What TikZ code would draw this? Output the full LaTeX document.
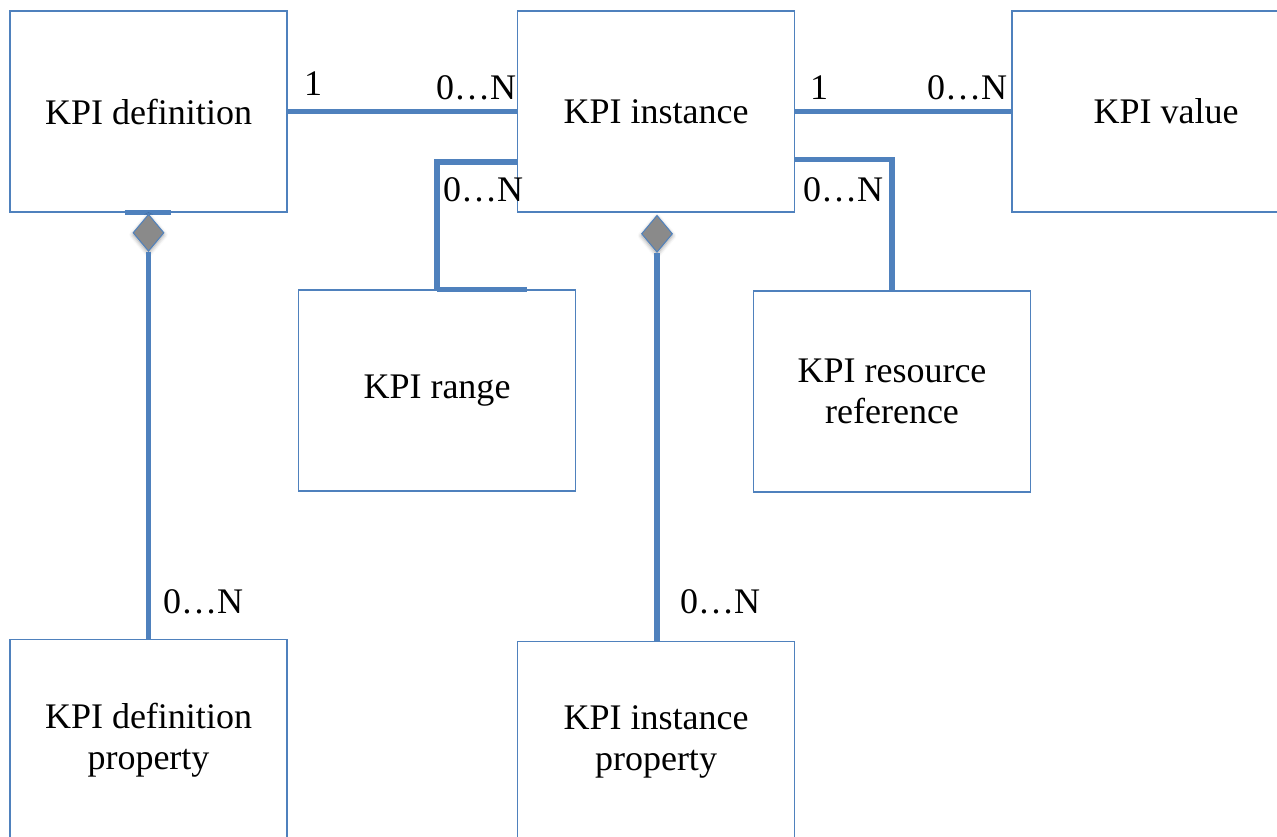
\documentclass[tikz,border=0pt]{standalone}
\usepackage{fontspec}
\setmainfont{Liberation Serif}
\usetikzlibrary{shapes.geometric,shadows.blur}

\definecolor{kpiblue}{RGB}{79,129,189}
\definecolor{kpigray}{RGB}{138,138,138}

\tikzset{
  entity/.style={draw=kpiblue, line width=0.75pt, rectangle, minimum width=138.5pt,
    minimum height=100.5pt, align=center, font=\fontsize{18}{20.5}\selectfont},
  conn/.style={draw=kpiblue, line width=2.6pt},
  agg/.style={diamond, draw=kpiblue, line width=0.5pt, fill=kpigray, inner sep=0pt,
    minimum width=15.5pt, minimum height=18.5pt, aspect=0.84,
    blur shadow={shadow xshift=0pt, shadow yshift=-1pt, shadow blur radius=2pt}},
  mult/.style={font=\fontsize{18}{20}\selectfont, inner sep=0pt}
}

\begin{document}
\begin{tikzpicture}[x=0.5pt, y=-0.5pt]
    \useasboundingbox (0,0) rectangle (1277,836);

    % entities
    \node[entity] (def) at (148.5, 111.5) {KPI definition};
    \node[entity] (inst) at (656, 111.5) {KPI instance};
    \node[entity, minimum width=154pt] (val) at (1166, 111.5) {KPI value};
    \node[entity] (range) at (437, 390.5) {KPI range};
    \node[entity] (res) at (892, 391.5) {KPI resource\\reference};
    \node[entity] (defprop) at (148.5, 740) {KPI definition\\property};
    \node[entity] (instprop) at (656, 742) {KPI instance\\property};

    % associations
    \draw[conn] (def.east) -- (inst.west);
    \draw[conn] (inst.east) -- (val.west);
    \draw[conn] ([yshift=-25.25pt]inst.west) -| (range.north);
    \draw[conn] (range.north) -- ++(90,0);
    \draw[conn] ([yshift=-24pt]inst.east) -| (res.north);

    % aggregations
    \draw[conn] ([xshift=-12pt]def.south) -- ([xshift=11pt]def.south);
    \node[agg, anchor=north] (defagg) at ([yshift=-0.5pt]def.south) {};
    \node[agg, anchor=north] (instagg) at ([xshift=0.5pt,yshift=-1pt]inst.south) {};
    \draw[conn] (defagg.south) -- (defagg.south |- defprop.north);
    \draw[conn] (instagg.south) -- (instagg.south |- instprop.north);

    % multiplicities
    \node[mult] (m1) at (313, 84) {1};
    \node[mult] (m2) at (476, 88) {0…N};
    \node[mult] (m3) at (819, 88) {1};
    \node[mult] (m4) at (967, 88) {0…N};
    \node[mult] (m5) at (483, 190) {0…N};
    \node[mult] (m6) at (843, 190) {0…N};
    \node[mult] (m7) at (203, 602) {0…N};
    \node[mult] (m8) at (720, 602) {0…N};
\end{tikzpicture}
\end{document}
